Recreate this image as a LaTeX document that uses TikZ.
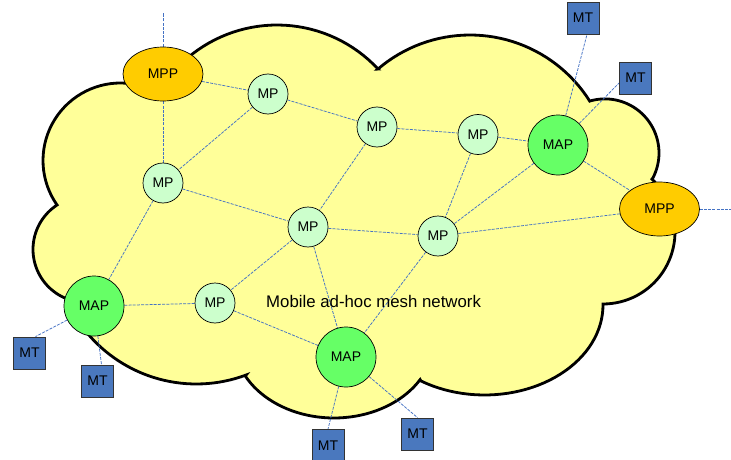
\documentclass[tikz,border=0pt]{standalone}
\usepackage{fontspec}
\setmainfont{Liberation Sans}
\usetikzlibrary{shapes.geometric,backgrounds}
\definecolor{cloudfill}{HTML}{FFFF99}
\definecolor{mppfill}{HTML}{FFCC00}
\definecolor{mpfill}{HTML}{CCFFCC}
\definecolor{mapfill}{HTML}{66FF66}
\definecolor{mtfill}{HTML}{4A78BE}
\definecolor{linkc}{HTML}{4472C4}
\begin{document}
\begin{tikzpicture}[x=1pt,y=-1pt,
  nodefont/.style={font=\fontsize{14}{16}\selectfont},
  mpp/.style={ellipse, draw=black, line width=0.7pt, fill=mppfill, minimum width=80pt, minimum height=54pt, inner sep=0pt, nodefont},
  mp/.style={circle, draw=black, line width=0.7pt, fill=mpfill, minimum size=40pt, inner sep=0pt, nodefont},
  map/.style={circle, draw=black, line width=0.7pt, fill=mapfill, minimum size=60pt, inner sep=0pt, nodefont},
  mt/.style={rectangle, draw=black!80, line width=0.8pt, fill=mtfill, minimum size=32pt, inner sep=0pt, nodefont},
  link/.style={draw=linkc, line width=0.75pt, dash pattern=on 3pt off 1.2pt},
  cloud/.style={draw=black, line width=2.8pt, fill=cloudfill, line join=miter}
]
\useasboundingbox (0,0) rectangle (731,460);

% nodes
\node[mpp] (mpp1) at (163,74) {MPP};
\node[mpp] (mpp2) at (659.5,209) {MPP};
\node[mp] (mpa) at (268,94) {MP};
\node[mp] (mpb) at (163,183) {MP};
\node[mp] (mpc) at (377,127) {MP};
\node[mp] (mpd) at (478,134.5) {MP};
\node[mp] (mpe) at (308,227) {MP};
\node[mp] (mpf) at (438,236) {MP};
\node[mp] (mpg) at (215,303) {MP};
\node[map] (map1) at (558,145) {MAP};
\node[map] (map2) at (94,306) {MAP};
\node[map] (map3) at (346,357) {MAP};
\node[mt] (mt1) at (583,18) {MT};
\node[mt] (mt2) at (635.5,78) {MT};
\node[mt] (mt3) at (29.5,353) {MT};
\node[mt] (mt4) at (97.5,381) {MT};
\node[mt] (mt5) at (328,445.5) {MT};
\node[mt] (mt6) at (417.5,434) {MT};
\coordinate (topend) at (163,13);
\coordinate (rightend) at (731,209);
\node[font=\fontsize{16.8}{19}\selectfont, anchor=base west, inner sep=0pt] (label) at (266,307) {Mobile ad-hoc mesh network};

\begin{pgfonlayer}{background}
% cloud
\path[cloud]
  plot[domain=145:298.4, samples=40, variable=\t] ({120.5+77.5*cos(\t)}, {160.5+77.5*sin(\t)})
  -- plot[domain=210.3:317.1, samples=40, variable=\t] ({277+138*cos(\t)}, {163+138*sin(\t)})
  -- plot[domain=229.4:327.8, samples=40, variable=\t] ({470+141.5*cos(\t)}, {176.5+141.5*sin(\t)})
  -- plot[domain=254:387.5, samples=40, variable=\t] ({604.9+54.1*cos(\t)}, {153+54.1*sin(\t)})
  -- plot[domain=312.8:450, samples=40, variable=\t] ({603+72*cos(\t)}, {232+72*sin(\t)})
  -- plot[domain=0:122.4, samples=40, variable=\t] ({484.5+118.5*cos(\t)}, {305+90*sin(\t)})
  -- plot[domain=30.5:152.5, samples=40, variable=\t] ({334+100*cos(\t)}, {340+78*sin(\t)})
  -- plot[domain=69.5:156.6, samples=40, variable=\t] ({196.3+142.3*cos(\t)}, {241.7+142.3*sin(\t)})
  -- plot[domain=112.4:236.9, samples=40, variable=\t] ({86+53*cos(\t)}, {249.4+53*sin(\t)})
  -- cycle;
% links
\path[link] (mpp1) -- (topend);
\path[link] (mpp1) -- (mpa);
\path[link] (mpp1) -- (mpb);
\path[link] (mpa) -- (mpb);
\path[link] (mpa) -- (mpc);
\path[link] (mpb) -- (mpe);
\path[link] (mpb) -- (map2);
\path[link] (mpc) -- (mpd);
\path[link] (mpc) -- (mpe);
\path[link] (mpd) -- (map1);
\path[link] (mpd) -- (mpf);
\path[link] (map1) -- (mpf);
\path[link] (map1) -- (mpp2);
\path[link] (map1) -- ([xshift=4pt]mt1.south);
\path[link] (map1) -- ([yshift=-5pt]mt2.west);
\path[link] (mpp2) -- (mpf);
\path[link] (mpp2) -- (rightend);
\path[link] (mpe) -- (mpf);
\path[link] (mpe) -- (mpg);
\path[link] (mpe) -- (map3);
\path[link] (mpf) -- (map3);
\path[link] (map2) -- (mpg);
\path[link] (map2) -- ([xshift=6pt]mt3.north);
\path[link] (map2) -- ([xshift=4pt]mt4.north);
\path[link] (mpg) -- (map3);
\path[link] (map3) -- (mt5.north);
\path[link] (map3) -- (mt6.north);
\end{pgfonlayer}
\end{tikzpicture}
\end{document}
